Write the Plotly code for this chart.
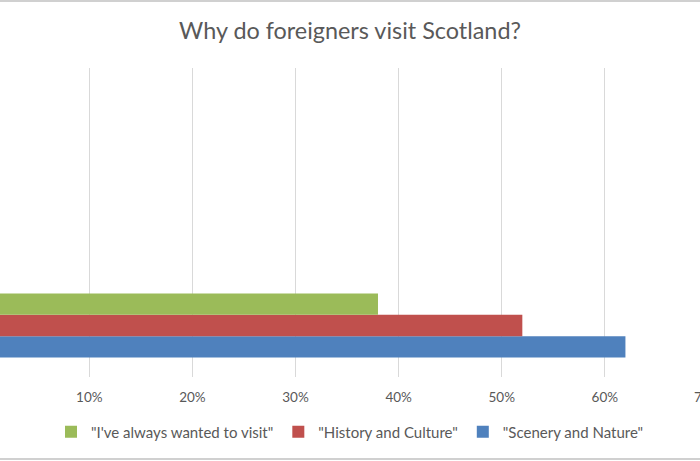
import plotly.graph_objects as go

# Data
series_names = ['"Scenery and Nature"', '"History and Culture"', '"I\'ve always wanted to visit"']
series_values = [62, 52, 38]
series_colors = ["#4F81BD", "#C0504D", "#9BBB59"]
category_positions = [0]          # one populated category out of three slots
tick_values = [10, 20, 30, 40, 50, 60, 70]
tick_labels = ["10%", "20%", "30%", "40%", "50%", "60%", "70%"]

W, H = 700, 461
T, B = 68, 461 - 377
PH = H - T - B

X0 = 1.338
X1 = X0 + 700 / 10.31

FONT = "Lato"
TXT = "#595959"

fig = go.Figure()
for name, val, col in zip(series_names, series_values, series_colors):
    fig.add_trace(go.Bar(
        y=category_positions, x=[val], name=name, orientation="h",
        marker=dict(color=col, line=dict(width=0)),
    ))

fig.update_layout(
    width=W, height=H,
    margin=dict(l=0, r=0, t=T, b=B, pad=0, autoexpand=False),
    paper_bgcolor="white", plot_bgcolor="white",
    barmode="group", bargap=0.38, bargroupgap=0,
    title=dict(text="Why do foreigners visit Scotland?", x=0.5, xanchor="center",
               y=1 - 31 / H, yanchor="middle",
               font=dict(family=FONT, size=23.4, color=TXT)),
    xaxis=dict(range=[X0, X1], tickvals=tick_values, ticktext=tick_labels,
               showgrid=True, gridcolor="#D9D9D9", gridwidth=1, zeroline=False,
               showline=False, ticks="outside", ticklen=8, tickcolor="rgba(0,0,0,0)",
               tickfont=dict(family=FONT, size=13.5, color=TXT)),
    yaxis=dict(range=[-0.5, 2.5], showticklabels=False, showgrid=False, zeroline=False,
               showline=False, ticks=""),
    legend=dict(orientation="h", x=0.5, xanchor="center", y=-(432 - 377) / PH, yanchor="middle",
                traceorder="reversed", font=dict(family=FONT, size=15, color=TXT),
                bgcolor="rgba(0,0,0,0)"),
    showlegend=True,
)

# last tick label (partly cut by the right edge in the original)
last_tick = tick_values[-1]
fig.add_annotation(xref="paper", yref="paper", x=(last_tick - X0) / (X1 - X0),
                   y=-(397 - 377) / PH, text=tick_labels[-1], showarrow=False,
                   xanchor="center", yanchor="middle",
                   font=dict(family=FONT, size=13.5, color=TXT))

fig.add_shape(type="line", xref="paper", yref="paper", x0=0, x1=1,
              y0=1 + (T - 1) / PH, y1=1 + (T - 1) / PH,
              line=dict(color="#D0D0D0", width=2))
fig.add_shape(type="line", xref="paper", yref="paper", x0=0, x1=1,
              y0=-(459 - 377) / PH, y1=-(459 - 377) / PH,
              line=dict(color="#D0D0D0", width=2))

fig.write_html("out.html", config={"displayModeBar": False},
               post_script="document.body.style.margin='0';")
